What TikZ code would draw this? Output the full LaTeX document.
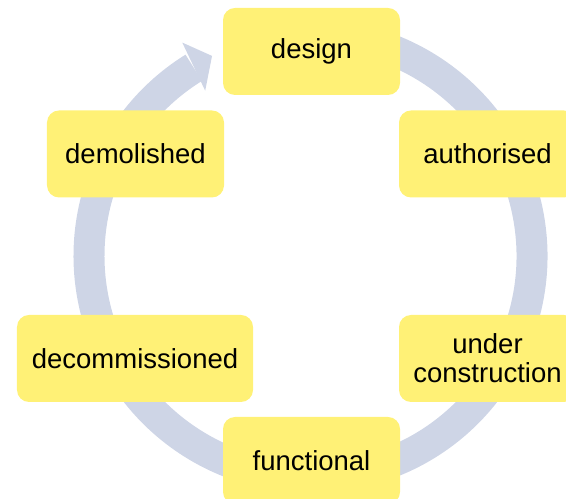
\documentclass[tikz,border=0pt]{standalone}
\usepackage{fontspec}
\setmainfont{Liberation Sans}
\usetikzlibrary{calc}
\definecolor{boxyellow}{RGB}{255,241,118}
\definecolor{ringblue}{RGB}{206,213,230}
\begin{document}
\begin{tikzpicture}[x=1bp,y=1bp,
  stagebox/.style={fill=boxyellow, rounded corners=12bp, minimum width=177bp,
    minimum height=87bp, inner sep=0pt, align=center,
    font=\fontsize{27.5bp}{29bp}\selectfont, text=black},
  ring/.style={draw=ringblue, line width=31bp}]
\clip (0,0) rectangle (566,499);
\useasboundingbox (0,0) rectangle (566,499);
\coordinate (c) at (310.5,243);
\draw[ring] ($(c)+(100:221.5)$) arc[start angle=100, end angle=-238.2, radius=221.5];
\fill[ringblue] ($(c)+(121:249)$) -- ($(c)+(116.2:223)$) -- ($(c)+(122.5:196)$) -- cycle;
\node[stagebox] (design) at (311.5,447.5) {design};
\node[stagebox] (authorised) at (487.5,345) {authorised};
\node[stagebox] (construction) at (487.5,140.5) {under\\construction};
\node[stagebox] (functional) at (311.5,38.5) {functional};
\node[stagebox, minimum width=236bp] (decommissioned) at (135,140.5) {decommissioned};
\node[stagebox] (demolished) at (135.5,345) {demolished};
\end{tikzpicture}
\end{document}
